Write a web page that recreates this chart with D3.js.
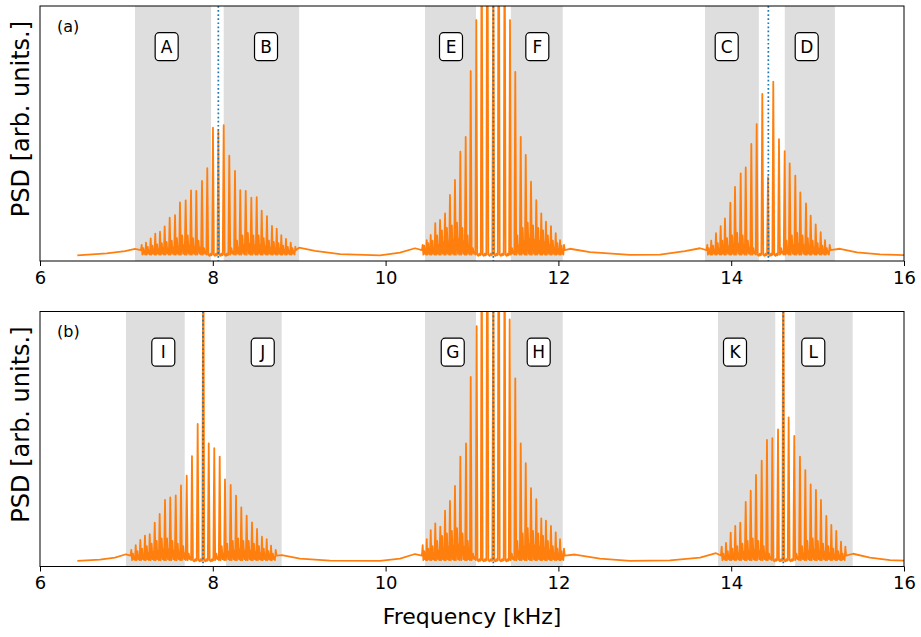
<!DOCTYPE html>
<html>
<head>
<meta charset="utf-8">
<script src="https://cdn.jsdelivr.net/npm/d3@7"></script>
<style>
body { margin: 0; background: #fff; }
text { font-family: "DejaVu Sans", sans-serif; }
</style>
</head>
<body>
<div id="chart"></div>
<script>
// x ticks (kHz)
const xTicks = [6, 8, 10, 12, 14, 16];

// ---- panel (a) ----
// main comb peaks [freq kHz, PSD arb.]
const peaksA1 = [[7.177,0.063],[7.227,0.072],[7.281,0.089],[7.334,0.107],[7.389,0.115],[7.443,0.136],[7.501,0.170],[7.563,0.180],[7.620,0.230],[7.686,0.238],[7.748,0.277],[7.809,0.275],[7.875,0.314],[7.936,0.364],[8.002,0.523],[8.064,0.510],[8.126,0.533],[8.191,0.413],[8.257,0.353],[8.318,0.278],[8.381,0.275],[8.446,0.248],[8.508,0.250],[8.566,0.197],[8.627,0.176],[8.685,0.138],[8.740,0.127],[8.793,0.101],[8.847,0.087],[8.902,0.072],[8.955,0.056]];
const peaksA2 = [[10.429,0.063],[10.476,0.082],[10.522,0.102],[10.575,0.148],[10.630,0.161],[10.688,0.187],[10.745,0.259],[10.803,0.318],[10.865,0.429],[10.927,0.487],[10.985,0.745],[11.050,0.945],[11.112,1.4],[11.177,1.8],[11.247,1.3],[11.309,1.8],[11.378,1.4],[11.440,0.945],[11.501,0.742],[11.564,0.487],[11.622,0.416],[11.683,0.311],[11.744,0.239],[11.802,0.187],[11.856,0.154],[11.914,0.137],[11.969,0.109],[12.019,0.082],[12.065,0.063]];
const peaksA3 = [[13.723,0.063],[13.769,0.080],[13.824,0.109],[13.878,0.137],[13.928,0.167],[13.990,0.229],[14.044,0.291],[14.110,0.344],[14.168,0.367],[14.233,0.459],[14.295,0.537],[14.360,0.655],[14.426,0.329],[14.487,0.703],[14.553,0.478],[14.619,0.431],[14.677,0.383],[14.742,0.335],[14.800,0.269],[14.866,0.226],[14.920,0.178],[14.978,0.144],[15.036,0.113],[15.086,0.082],[15.140,0.063]];
// small side-band level between neighbouring peaks
const fuzzA1 = [0.05,0.055,0.06,0.065,0.07,0.075,0.08,0.09,0.10,0.10,0.09,0.08,0.05,0.02,0.02,0.02,0.02,0.05,0.08,0.10,0.11,0.10,0.10,0.09,0.08,0.075,0.07,0.06,0.055,0.05];
const fuzzA2 = [0.06,0.07,0.08,0.10,0.12,0.13,0.14,0.15,0.13,0.10,0.05,0.02,0.02,0.02,0.02,0.02,0.02,0.05,0.10,0.13,0.15,0.14,0.13,0.12,0.10,0.08,0.07,0.06];
const fuzzA3 = [0.05,0.06,0.07,0.08,0.09,0.10,0.11,0.10,0.08,0.05,0.02,0.02,0.02,0.02,0.05,0.08,0.10,0.11,0.10,0.09,0.08,0.07,0.06,0.05];
// broad background outside the combs
const bgA = [[6.432,0.022],[6.772,0.030],[6.984,0.039],[7.100,0.048],[8.998,0.052],[9.183,0.040],[9.472,0.027],[9.935,0.022],[10.167,0.033],[10.340,0.050],[12.134,0.048],[12.366,0.035],[12.829,0.024],[13.176,0.025],[13.465,0.039],[13.639,0.050],[15.259,0.048],[15.456,0.034],[15.722,0.026],[16.0,0.023]];
const spansA = [[7.10,7.98],[8.126,9.0],[10.456,11.046],[11.45,12.05],[13.697,14.32],[14.62,15.20]];
const centersA = [8.064, 11.247, 14.43];
const labelsA = [["A",7.466],["B",8.616],["E",10.757],["F",11.756],["C",13.948],["D",14.874]];

// ---- panel (b) ----
const peaksB1 = [[7.057,0.065],[7.108,0.084],[7.161,0.104],[7.215,0.121],[7.270,0.127],[7.328,0.172],[7.385,0.206],[7.447,0.261],[7.508,0.271],[7.571,0.279],[7.632,0.318],[7.698,0.356],[7.759,0.433],[7.825,0.559],[7.890,1.5],[7.953,0.483],[8.017,0.464],[8.080,0.431],[8.141,0.342],[8.207,0.320],[8.269,0.278],[8.330,0.232],[8.392,0.199],[8.454,0.173],[8.512,0.147],[8.569,0.117],[8.624,0.107],[8.674,0.082],[8.728,0.065]];
const peaksB2 = [[10.429,0.084],[10.476,0.107],[10.522,0.143],[10.575,0.169],[10.633,0.156],[10.688,0.219],[10.745,0.257],[10.803,0.316],[10.865,0.431],[10.931,0.483],[10.985,0.744],[11.054,0.943],[11.112,1.4],[11.177,1.8],[11.247,1.3],[11.309,1.8],[11.378,1.4],[11.436,0.969],[11.501,0.738],[11.564,0.483],[11.622,0.405],[11.683,0.307],[11.744,0.264],[11.802,0.189],[11.856,0.180],[11.914,0.159],[11.969,0.134],[12.019,0.107],[12.065,0.070]];
const peaksB3 = [[13.890,0.078],[13.940,0.093],[13.994,0.133],[14.047,0.159],[14.105,0.172],[14.168,0.253],[14.226,0.297],[14.287,0.359],[14.353,0.415],[14.414,0.496],[14.476,0.503],[14.542,0.538],[14.603,1.5],[14.665,0.585],[14.730,0.512],[14.796,0.431],[14.858,0.378],[14.920,0.322],[14.981,0.300],[15.039,0.261],[15.101,0.198],[15.159,0.163],[15.216,0.140],[15.271,0.097],[15.321,0.078]];
const fuzzB1 = [0.05,0.06,0.07,0.08,0.09,0.10,0.11,0.11,0.10,0.09,0.08,0.05,0.02,0.02,0.02,0.02,0.05,0.08,0.09,0.10,0.11,0.10,0.10,0.09,0.08,0.07,0.06,0.05];
const fuzzB2 = [0.06,0.07,0.08,0.10,0.12,0.13,0.14,0.15,0.13,0.10,0.05,0.02,0.02,0.02,0.02,0.02,0.02,0.05,0.10,0.13,0.15,0.14,0.13,0.12,0.10,0.08,0.07,0.06];
const fuzzB3 = [0.05,0.06,0.07,0.08,0.09,0.10,0.11,0.10,0.08,0.05,0.02,0.02,0.02,0.02,0.05,0.08,0.10,0.11,0.10,0.09,0.08,0.07,0.06,0.05];
const bgB = [[6.432,0.022],[6.694,0.027],[6.868,0.035],[6.995,0.048],[8.801,0.045],[9.009,0.031],[9.356,0.023],[9.935,0.022],[10.167,0.031],[10.340,0.049],[12.192,0.047],[12.481,0.031],[12.829,0.022],[13.292,0.024],[13.639,0.035],[13.824,0.052],[15.410,0.050],[15.606,0.035],[15.838,0.025],[16.0,0.023]];
const spansB = [[6.995,7.675],[8.153,8.797],[10.456,11.046],[11.45,12.05],[13.847,14.51],[14.74,15.406]];
const centersB = [7.887, 11.247, 14.603];
const labelsB = [["I",7.427],["J",8.578],["G",10.777],["H",11.772],["K",14.044],["L",14.950]];

const W = 921, H = 637;
const floorLevel = 0.025;

const svg = d3.select("#chart").append("svg")
  .attr("width", W).attr("height", H);

const x = d3.scaleLinear().domain([6, 16]).range([40, 904]);

const panels = [
  {tag: "(a)", top: 6, bottom: 261, combs: [[peaksA1, fuzzA1], [peaksA2, fuzzA2], [peaksA3, fuzzA3]], bg: bgA, spans: spansA, centers: centersA, labels: labelsA},
  {tag: "(b)", top: 311.5, bottom: 566.5, combs: [[peaksB1, fuzzB1], [peaksB2, fuzzB2], [peaksB3, fuzzB3]], bg: bgB, spans: spansB, centers: centersB, labels: labelsB}
];

// turn peak list + side band level into a polyline
function combPoints(peaks, fuzz) {
  const pts = [];
  const n = peaks.length;
  const g0 = peaks[1][0] - peaks[0][0];
  pts.push([peaks[0][0] - 0.18 * g0, floorLevel + 0.018]);
  for (let i = 0; i < n; i++) {
    pts.push(peaks[i]);
    if (i < n - 1) {
      const f = peaks[i][0], g = peaks[i + 1][0] - f, fz = fuzz[i];
      pts.push([f + 0.17 * g, floorLevel]);
      pts.push([f + 0.38 * g, fz]);
      pts.push([f + 0.56 * g, floorLevel + 0.004]);
      pts.push([f + 0.70 * g, floorLevel + (fz - floorLevel) * 0.5]);
      pts.push([f + 0.83 * g, floorLevel]);
    }
  }
  const gl = peaks[n - 1][0] - peaks[n - 2][0];
  pts.push([peaks[n - 1][0] + 0.18 * gl, floorLevel + 0.018]);
  return pts;
}

panels.forEach((p, pi) => {
  const y = d3.scaleLinear().domain([0, 1]).range([p.bottom, p.top]);
  const g = svg.append("g");

  const clipId = "clip" + pi;
  svg.append("clipPath").attr("id", clipId)
    .append("rect")
    .attr("x", x(6)).attr("y", p.top)
    .attr("width", x(16) - x(6)).attr("height", p.bottom - p.top);

  const plot = g.append("g").attr("clip-path", "url(#" + clipId + ")");

  plot.selectAll("rect.span")
    .data(p.spans)
    .enter()
    .append("rect")
    .attr("class", "span")
    .attr("x", d => x(d[0]))
    .attr("width", d => x(d[1]) - x(d[0]))
    .attr("y", p.top)
    .attr("height", p.bottom - p.top)
    .attr("fill", "#dedede");

  let pts = p.bg.slice();
  p.combs.forEach(c => { pts = pts.concat(combPoints(c[0], c[1])); });
  pts.sort((a, b) => a[0] - b[0]);

  const line = d3.line().x(d => x(d[0])).y(d => y(d[1]));
  plot.append("path")
    .datum(pts)
    .attr("d", line)
    .attr("fill", "none")
    .attr("stroke", "#ff7f0e")
    .attr("stroke-width", 1.8)
    .attr("stroke-linejoin", "round");

  plot.selectAll("line.center")
    .data(p.centers)
    .enter()
    .append("line")
    .attr("class", "center")
    .attr("x1", d => x(d)).attr("x2", d => x(d))
    .attr("y1", p.top).attr("y2", p.bottom)
    .attr("stroke", "#1f77b4")
    .attr("stroke-width", 1.7)
    .attr("stroke-dasharray", "1.7,2.4");

  // lettered boxes
  const lab = g.selectAll("g.lab")
    .data(p.labels)
    .enter()
    .append("g")
    .attr("class", "lab")
    .attr("transform", d => "translate(" + x(d[1]) + "," + (p.top + 40.7) + ")");
  lab.append("rect")
    .attr("x", -11.5).attr("y", -14)
    .attr("width", 23).attr("height", 28)
    .attr("rx", 4)
    .attr("fill", "#fff")
    .attr("stroke", "#000")
    .attr("stroke-width", 1.2);
  lab.append("text")
    .attr("text-anchor", "middle")
    .attr("dy", "0.36em")
    .attr("font-size", 17)
    .text(d => d[0]);

  g.append("text")
    .attr("x", 57)
    .attr("y", p.top + 25.5)
    .attr("font-size", 16)
    .text(p.tag);

  // frame
  g.append("rect")
    .attr("x", x(6)).attr("y", p.top)
    .attr("width", x(16) - x(6)).attr("height", p.bottom - p.top)
    .attr("fill", "none")
    .attr("stroke", "#000")
    .attr("stroke-width", 1);

  const xAxis = d3.axisBottom(x).tickValues(xTicks).tickSize(5).tickPadding(5).tickFormat(d3.format("d"));
  const ax = g.append("g")
    .attr("transform", "translate(0," + p.bottom + ")")
    .call(xAxis);
  ax.select(".domain").remove();
  ax.selectAll("text").attr("font-size", 18).attr("font-family", "DejaVu Sans").attr("fill", "#000");
  ax.selectAll("line").attr("stroke", "#000");

  g.append("text")
    .attr("transform", "translate(29," + (p.top + 113) + ") rotate(-90)")
    .attr("text-anchor", "middle")
    .attr("font-size", 24)
    .text("PSD [arb. units.]");
});

svg.append("text")
  .attr("x", (x(6) + x(16)) / 2)
  .attr("y", 624)
  .attr("text-anchor", "middle")
  .attr("font-size", 22)
  .text("Frequency [kHz]");
</script>
</body>
</html>
